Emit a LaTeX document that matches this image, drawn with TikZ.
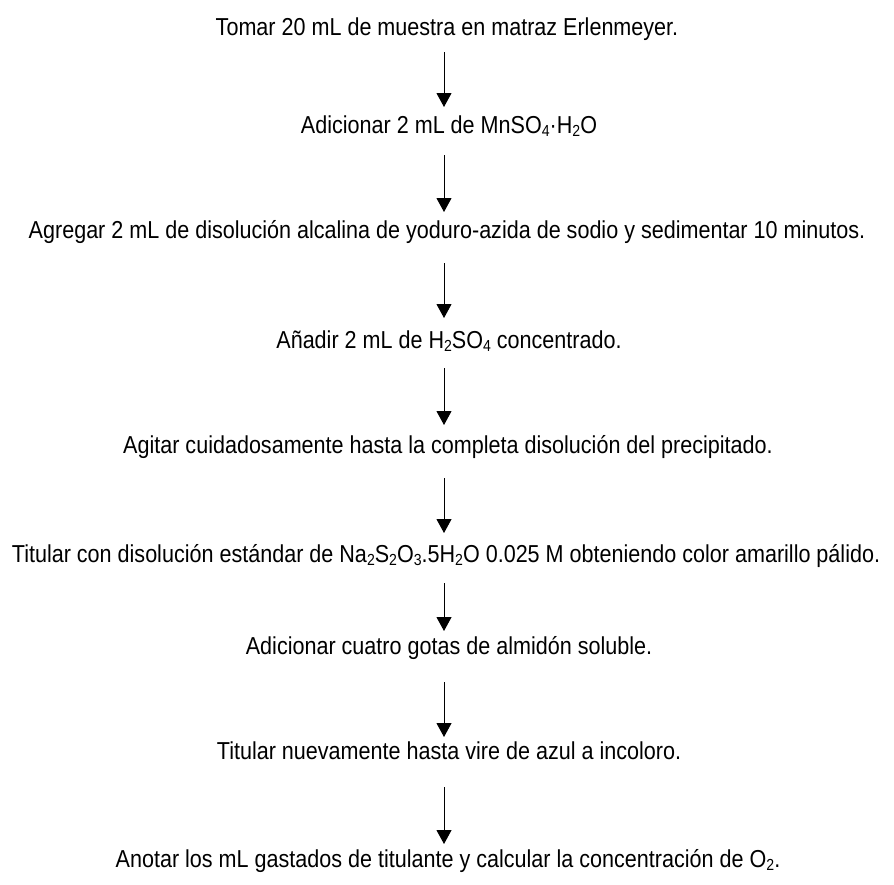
\documentclass[tikz,border=0pt]{standalone}
\usepackage{fontspec}
\setmainfont{Liberation Sans}[FakeStretch=0.88]
\usetikzlibrary{arrows.meta}

% lowered, smaller digits for chemical formulas
\newcommand\chsub[1]{\raisebox{-0.14em}{\fontsize{16}{16}\selectfont #1}}

\tikzset{
  stepline/.style={anchor=base, inner sep=0pt, font=\fontsize{24.5}{28}\selectfont},
  flow/.style={line width=1pt, -{Triangle[width=15pt,length=14pt]}}
}

\begin{document}
\begin{tikzpicture}[x=1pt,y=1pt]
  \useasboundingbox (0,0) rectangle (894,-884);

  % procedure steps (baseline positions)
  \node[stepline] (t1) at (447,-35)  {Tomar 20 mL de muestra en matraz Erlenmeyer.};
  \node[stepline] (t2) at (449,-133) {Adicionar 2 mL de MnSO\chsub{4}·H\chsub{2}O};
  \node[stepline] (t3) at (447,-238) {Agregar 2 mL de disolución alcalina de yoduro-azida de sodio y sedimentar 10 minutos.};
  \node[stepline] (t4) at (449,-348) {Añadir 2 mL de H\chsub{2}SO\chsub{4} concentrado.};
  \node[stepline] (t5) at (448,-453) {Agitar cuidadosamente hasta la completa disolución del precipitado.};
  \node[stepline] (t6) at (446,-562) {Titular con disolución estándar de Na\chsub{2}S\chsub{2}O\chsub{3}.5H\chsub{2}O 0.025 M obteniendo color amarillo pálido.};
  \node[stepline] (t7) at (449,-654) {Adicionar cuatro gotas de almidón soluble.};
  \node[stepline] (t8) at (449,-759) {Titular nuevamente hasta vire de azul a incoloro.};
  \node[stepline] (t9) at (448,-867) {Anotar los mL gastados de titulante y calcular la concentración de O\chsub{2}.};

  % arrow ends between consecutive steps
  \coordinate (s1) at (444,-52);  \coordinate (e1) at (444,-107);
  \coordinate (s2) at (444,-155); \coordinate (e2) at (444,-212);
  \coordinate (s3) at (444,-263); \coordinate (e3) at (444,-318);
  \coordinate (s4) at (444,-368); \coordinate (e4) at (444,-425);
  \coordinate (s5) at (444,-478); \coordinate (e5) at (444,-533);
  \coordinate (s6) at (444,-583); \coordinate (e6) at (444,-631);
  \coordinate (s7) at (444,-682); \coordinate (e7) at (444,-737);
  \coordinate (s8) at (444,-787); \coordinate (e8) at (444,-844);

  \foreach \i in {1,...,8} {
    \draw[flow] (s\i) -- (e\i);
  }
\end{tikzpicture}
\end{document}
